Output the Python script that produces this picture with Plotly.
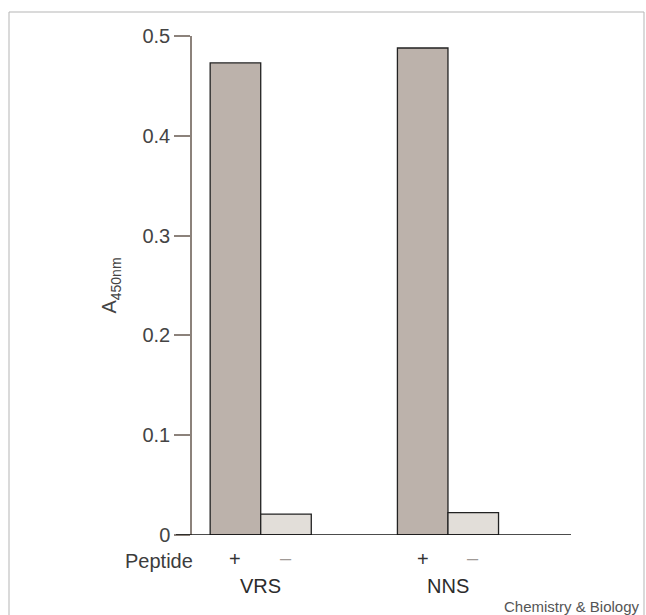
import plotly.graph_objects as go

# Data
categories = ["VRS", "NNS"]
peptide_plus = [0.473, 0.488]
peptide_minus = [0.021, 0.0225]
y_ticks = [0, 0.1, 0.2, 0.3, 0.4, 0.5]
y_tick_labels = ["0", "0.1", "0.2", "0.3", "0.4", "0.5"]

W, H = 646, 615
L, R, T, B = 192, 75, 36, 80
pw = W - L - R
ph = H - T - B

def px_x(x):
    return (x - L) / pw

def px_y(y):
    return (H - B - y) / ph

fig = go.Figure()
fig.add_trace(go.Bar(x=categories, y=peptide_plus, name="+",
                     marker=dict(color="#bcb2ab", line=dict(color="#222222", width=1.3))))
fig.add_trace(go.Bar(x=categories, y=peptide_minus, name="–",
                     marker=dict(color="#e2ded9", line=dict(color="#222222", width=1.3))))

font = "Liberation Sans, Arial, sans-serif"
FS = 20
fig.update_layout(
    width=W, height=H,
    margin=dict(l=L, r=R, t=T, b=B),
    barmode="group", bargap=0.46, bargroupgap=0,
    plot_bgcolor="white", paper_bgcolor="white",
    showlegend=False,
    font=dict(family=font, size=FS, color="#444444"),
    xaxis=dict(type="category", range=[-0.367, 1.657], showticklabels=False,
               ticks="", showline=False, showgrid=False, zeroline=False, fixedrange=True),
    yaxis=dict(range=[0, 0.5], tickvals=y_ticks, ticktext=y_tick_labels,
               ticks="outside", ticklen=16, tickwidth=1.5, tickcolor="#8c827b",
               showline=True, linecolor="#8c827b", linewidth=1.5,
               showgrid=False, zeroline=False,
               tickfont=dict(size=FS, color="#444444"),
               title=dict(text="A<sub>450nm</sub>", font=dict(size=FS, color="#444444"), standoff=20)),
)

# x-axis baseline (extends under the y tick at zero)
fig.add_shape(type="line", xref="paper", yref="y", x0=px_x(176), x1=1, y0=0, y1=0,
              line=dict(color="#111111", width=1.6))
# outer frame
fig.add_shape(type="rect", xref="paper", yref="paper",
              x0=px_x(9), x1=px_x(644), y0=px_y(640), y1=px_y(12),
              line=dict(color="#b5b5b5", width=1))

half = 0.135
ann = []
for i, c in enumerate(categories):
    ann.append(dict(x=i - half, y=px_y(559), xref="x", yref="paper", text="+",
                    xanchor="center", yanchor="middle",
                    showarrow=False, font=dict(size=FS, color="#333333")))
    ann.append(dict(x=i + half, y=px_y(558), xref="x", yref="paper", text="–",
                    xanchor="center", yanchor="middle",
                    showarrow=False, font=dict(size=FS, color="#a09a96")))
    ann.append(dict(x=i, y=px_y(586), xref="x", yref="paper", text=c,
                    xanchor="center", yanchor="middle",
                    showarrow=False, font=dict(size=FS, color="#2c2c2c")))
ann.append(dict(x=px_x(195), y=px_y(561), xref="paper", yref="paper", text="Peptide",
                xanchor="right", yanchor="middle", showarrow=False,
                font=dict(size=FS, color="#3c3c3c")))
ann.append(dict(x=px_x(642), y=px_y(606), xref="paper", yref="paper", text="Chemistry &amp; Biology",
                xanchor="right", yanchor="middle", showarrow=False,
                font=dict(size=15, color="#555555")))
fig.update_layout(annotations=ann)

fig.write_html("out.html", config={"displayModeBar": False},
               post_script="document.body.style.margin='0';document.body.style.overflow='hidden';")
